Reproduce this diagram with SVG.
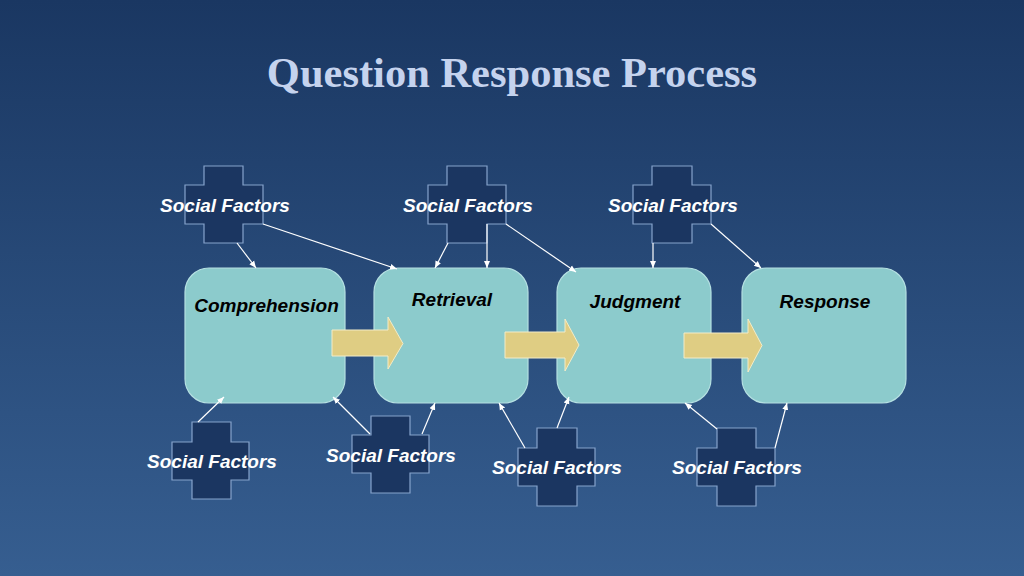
<svg xmlns="http://www.w3.org/2000/svg" width="1024" height="576" viewBox="0 0 1024 576">
<defs>
<linearGradient id="bg" x1="0" y1="0" x2="0" y2="1">
<stop offset="0" stop-color="#1a3762"/>
<stop offset="1" stop-color="#365e90"/>
</linearGradient>
<marker id="ah" markerWidth="8" markerHeight="8" refX="7" refY="4" orient="auto" markerUnits="userSpaceOnUse">
<path d="M0,1 L7,4 L0,7 Z" fill="#ffffff"/>
</marker>
</defs>
<style>
.title{font-family:"Liberation Serif","Times New Roman",serif;font-weight:bold;font-size:42.5px;fill:#c5d3ee}
.box{fill:#8ccbcc;stroke:#b5e0e2;stroke-width:1.2}
.cross{fill:#1b3661;stroke:#86a3cc;stroke-width:1.2}
.sf{font-family:"Liberation Sans",Arial,sans-serif;font-weight:bold;font-style:italic;font-size:19px;fill:#ffffff;text-anchor:middle}
.lbl{font-family:"Liberation Sans",Arial,sans-serif;font-weight:bold;font-style:italic;font-size:19px;fill:#000000;text-anchor:middle}
.flow{fill:#dfcd83;stroke:#f3ecc8;stroke-width:1}
.con{stroke:#ffffff;stroke-width:1.2;fill:none;marker-end:url(#ah)}
</style>
<rect width="1024" height="576" fill="url(#bg)"/>
<text class="title" x="512" y="87" text-anchor="middle">Question Response Process</text>

<g id="comprehension"><rect class="box" x="185" y="268" width="160" height="135" rx="24"/><text class="lbl" x="266.5" y="312">Comprehension</text></g>
<g id="retrieval"><rect class="box" x="374" y="268" width="154" height="135" rx="24"/><text class="lbl" x="452" y="306">Retrieval</text></g>
<g id="judgment"><rect class="box" x="557" y="268" width="154" height="135" rx="24"/><text class="lbl" x="635" y="308">Judgment</text></g>
<g id="response"><rect class="box" x="742" y="268" width="164" height="135" rx="24"/><text class="lbl" x="825" y="308">Response</text></g>

<g id="flow-arrows">
<path class="flow" d="M332,330 H388 V317 L403,343.5 L388,369 V356 H332 Z"/>
<path class="flow" d="M505,332 H565 V319 L579,345 L565,371 V358 H505 Z"/>
<path class="flow" d="M684,333 H748 V319 L762,345.5 L748,372 V358 H684 Z"/>
</g>

<g id="sf-top-1"><path class="cross" d="M204,166 H243 V185 H263 V224 H243 V243 H204 V224 H185 V185 H204 Z"/><text class="sf" x="225" y="212">Social Factors</text></g>
<g id="sf-top-2"><path class="cross" d="M447,166 H487 V185 H506 V224 H487 V243 H447 V224 H428 V185 H447 Z"/><text class="sf" x="468" y="212">Social Factors</text></g>
<g id="sf-top-3"><path class="cross" d="M652,166 H692 V185 H711 V224 H692 V243 H652 V224 H633 V185 H652 Z"/><text class="sf" x="673" y="212">Social Factors</text></g>
<g id="sf-bot-1"><path class="cross" d="M192,422 H231 V442 H249 V480 H231 V499 H192 V480 H172 V442 H192 Z"/><text class="sf" x="212" y="468">Social Factors</text></g>
<g id="sf-bot-2"><path class="cross" d="M371,416 H410 V435 H429 V473 H410 V493 H371 V473 H352 V435 H371 Z"/><text class="sf" x="391" y="462">Social Factors</text></g>
<g id="sf-bot-3"><path class="cross" d="M537,428 H577 V448 H595 V486 H577 V506 H537 V486 H518 V448 H537 Z"/><text class="sf" x="557" y="474">Social Factors</text></g>
<g id="sf-bot-4"><path class="cross" d="M717,428 H756 V448 H775 V486 H756 V506 H717 V486 H697 V448 H717 Z"/><text class="sf" x="737" y="474">Social Factors</text></g>

<g id="connectors">
<line class="con" x1="237" y1="243" x2="256" y2="268"/>
<line class="con" x1="263" y1="224" x2="397" y2="269"/>
<line class="con" x1="448" y1="243" x2="435" y2="268"/>
<line class="con" x1="487" y1="224" x2="487" y2="268"/>
<line class="con" x1="506" y1="224" x2="576" y2="272"/>
<line class="con" x1="653" y1="243" x2="653" y2="268"/>
<line class="con" x1="711" y1="224" x2="761" y2="268"/>
<line class="con" x1="198" y1="422" x2="224" y2="397"/>
<line class="con" x1="370" y1="434" x2="333" y2="397"/>
<line class="con" x1="422" y1="434" x2="435" y2="403"/>
<line class="con" x1="525" y1="448" x2="499" y2="403"/>
<line class="con" x1="557" y1="428" x2="569" y2="397"/>
<line class="con" x1="717" y1="429" x2="685" y2="403"/>
<line class="con" x1="775" y1="448" x2="787" y2="403"/>
</g>
</svg>
